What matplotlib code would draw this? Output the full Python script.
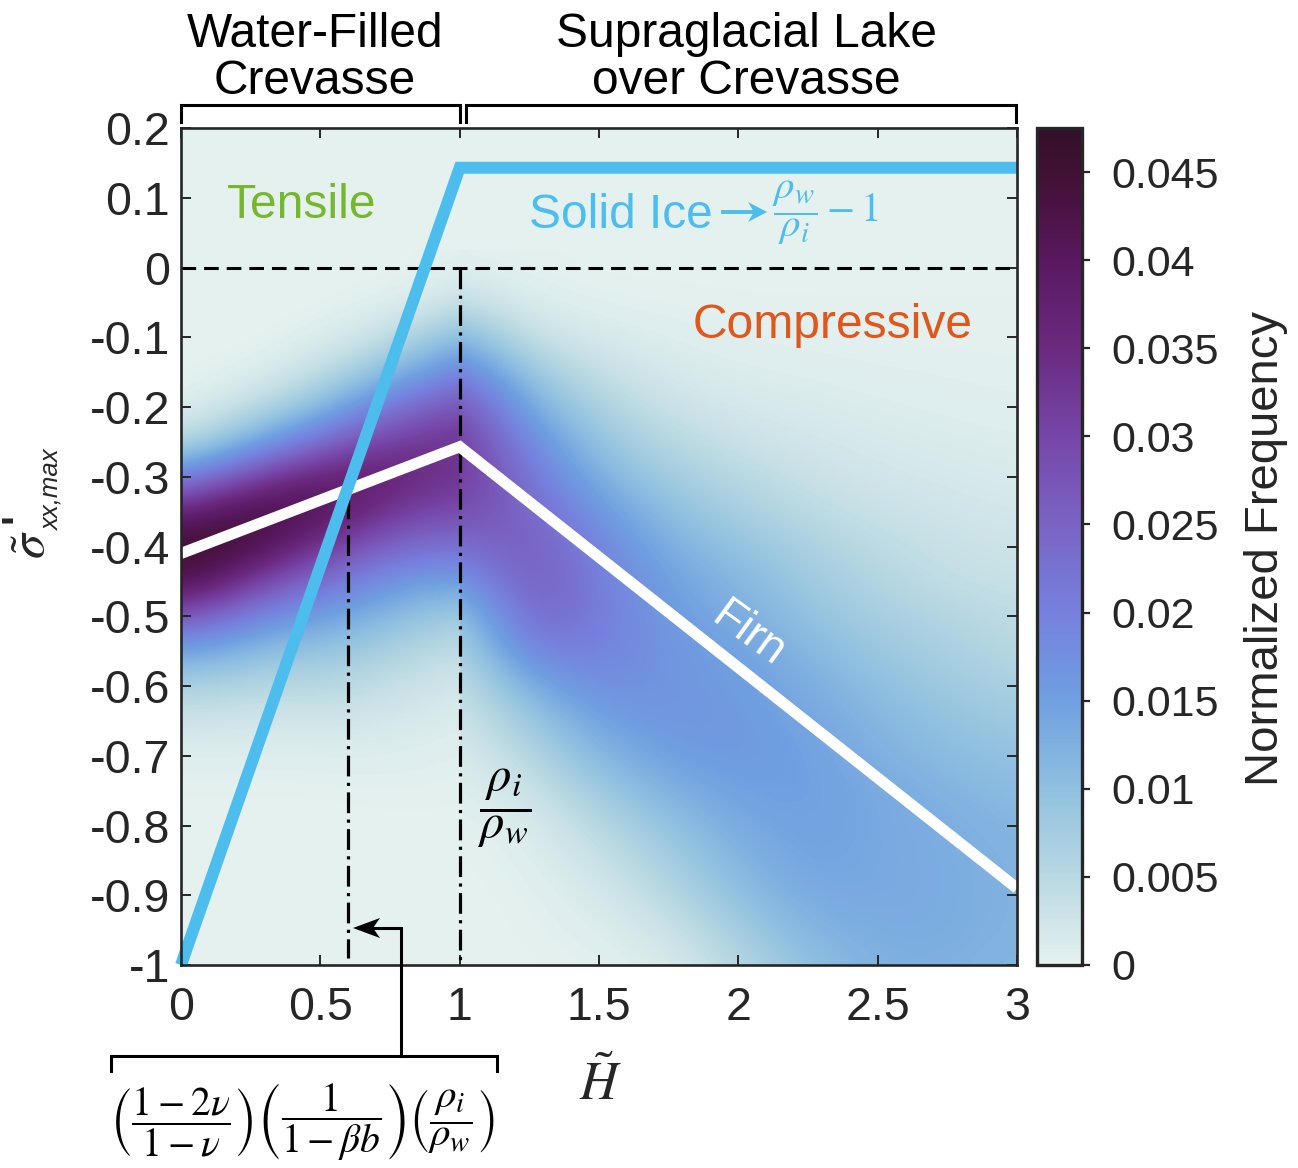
import numpy as np
import matplotlib
matplotlib.use("Agg")
import matplotlib.pyplot as plt
from matplotlib.colors import LinearSegmentedColormap
from matplotlib.patches import Rectangle

plt.rcParams['font.family'] = ['Liberation Sans', 'DejaVu Sans']
plt.rcParams['mathtext.fontset'] = 'stix'

W, H = 1298, 1168
INK = '#262626'

# Frequency (x 1e-3) at stress rows 0, -0.05, ... -1 for each H-tilde column
stress_rows = [0, -.05, -.1, -.15, -.2, -.25, -.3, -.35, -.4, -.45, -.5, -.55, -.6, -.65, -.7, -.75, -.8, -.85, -.9, -.95, -1]
# crevasse block, H = 0 .. 1
h_left = [0, .125, .25, .375, .5, .625, .75, .875, 1]
a_000 = [0, 0, 0, 0, .8, 5, 19, 37, 46, 42, 27, 14, 6.5, 2.5, .8, .2, 0, 0, 0, 0, 0]
a_012 = [0, 0, 0, .3, 2, 8, 24, 40, 46, 38, 24, 13, 6, 2.5, .8, .2, 0, 0, 0, 0, 0]
a_025 = [0, 0, 0, .8, 4, 13, 29, 43, 43, 32, 20, 11, 5.5, 2.2, .8, .2, 0, 0, 0, 0, 0]
a_037 = [0, 0, .3, 2, 7, 18, 34, 43, 38, 27, 17, 9.5, 5, 2.2, .8, .2, 0, 0, 0, 0, 0]
a_050 = [0, 0, 1, 4, 11, 23, 37, 41, 33, 23, 15, 9, 5, 2.2, .8, .2, 0, 0, 0, 0, 0]
a_062 = [0, .3, 2, 7, 16, 28, 38, 37, 28, 20, 13, 8, 4.5, 2.2, .9, .3, 0, 0, 0, 0, 0]
a_075 = [0, .7, 4, 11, 21, 31, 37, 33, 25, 17, 11, 6.5, 3.5, 1.8, .8, .3, .1, 0, 0, 0, 0]
a_087 = [.2, 1.5, 7, 15, 25, 33, 35, 30, 23, 15, 9, 5, 2.8, 1.4, .7, .3, .1, 0, 0, 0, 0]
a_100 = [.5, 3, 10, 19, 28, 33, 33, 29, 23, 15, 8, 4, 2, 1, .5, .2, .1, 0, 0, 0, 0]
left_cols = [a_000, a_012, a_025, a_037, a_050, a_062, a_075, a_087, a_100]
# lake block, H = 1 .. 3
h_right = [1, 1.25, 1.5, 1.75, 2, 2.25, 2.5, 2.75, 3]
b_100 = [.5, 4, 12, 21, 29, 33, 33, 29, 23, 15, 8, 5, 3, 2, 1, .5, .2, .1, 0, 0, 0]
b_125 = [.2, 1, 3, 8, 13, 18, 22, 25, 27, 27, 25, 20, 13, 8, 5, 2.5, 1, .5, .3, .2, .1]
b_150 = [.1, .4, 1.5, 3.5, 6, 9, 12, 16, 19, 20.5, 21, 20, 18, 15, 11.5, 8, 5, 3, 1.5, .8, .3]
b_175 = [.1, .3, .8, 1.6, 3, 5, 7.5, 10, 12.5, 14.5, 15.5, 16.5, 16.5, 16.5, 15, 12.5, 9.5, 7, 5, 2.5, 1.2]
b_200 = [.1, .2, .5, 1, 1.8, 3, 5, 7, 9.5, 11.5, 13, 14.5, 15.5, 16, 16, 15, 13.5, 12, 10, 7.5, 5]
b_225 = [.1, .2, .4, .8, 1.4, 2.2, 3.2, 4.5, 6.5, 8, 9.5, 11.5, 13, 14, 14.8, 15, 14.8, 14.5, 13.5, 12, 10]
b_250 = [.1, .2, .3, .6, 1, 1.6, 2.3, 3.2, 4.5, 5.5, 7, 8.5, 10, 11.5, 12.5, 13.5, 13.5, 13.5, 13.5, 13, 12.5]
b_275 = [.1, .2, .3, .5, .8, 1.2, 1.8, 2.5, 3.2, 4, 5.5, 6.8, 8, 9.5, 10.5, 12, 12.8, 13, 13, 13, 12.5]
b_300 = [.1, .2, .3, .4, .6, 1, 1.4, 2, 2.7, 3.3, 4.2, 5, 6.5, 8, 9.5, 10.5, 11.5, 12, 12, 12, 11.5]
right_cols = [b_100, b_125, b_150, b_175, b_200, b_225, b_250, b_275, b_300]

solid_h = [0, 1, 3]
solid_s = [-1, .143, .143]
firn_h = [0, 1, 3]
firn_s = [-.41, -.257, -.89]

x_ticks = [0, .5, 1, 1.5, 2, 2.5, 3]
x_labels = ['0', '0.5', '1', '1.5', '2', '2.5', '3']
y_ticks = [.2, .1, 0, -.1, -.2, -.3, -.4, -.5, -.6, -.7, -.8, -.9, -1]
y_labels = ['0.2', '0.1', '0', '-0.1', '-0.2', '-0.3', '-0.4', '-0.5', '-0.6', '-0.7', '-0.8', '-0.9', '-1']
cb_ticks = [0, .005, .01, .015, .02, .025, .03, .035, .04, .045]
cb_labels = ['0', '0.005', '0.01', '0.015', '0.02', '0.025', '0.03', '0.035', '0.04', '0.045']

cmap_stops = [0, .005, .01, .015, .02, .025, .03, .035, .04, .045, .0475]
cmap_cols = ['#e5f1ef', '#b8d8e2', '#8fc0e0', '#6f9fe0', '#7680de', '#7a64c4',
             '#7646a8', '#6b2a80', '#591860', '#421033', '#32102a']
VMAX = .0475
cmap = LinearSegmentedColormap.from_list('ice', [(s / VMAX, c) for s, c in zip(cmap_stops, cmap_cols)], N=256)


def rect(x0, y0, x1, y1):
    return [x0 / W, 1 - y1 / H, (x1 - x0) / W, (y1 - y0) / H]


fig = plt.figure(figsize=(W / 100, H / 100), dpi=100)
ax = fig.add_axes(rect(181, 128, 1017, 965))
ax.set_facecolor(cmap(0.0))


def block(h_vals, cols):
    """Draw one block of the histogram; matplotlib smooths between the read values."""
    z = np.array(cols).T * 1e-3
    dh = h_vals[1] - h_vals[0]
    ds = stress_rows[0] - stress_rows[1]
    im = ax.imshow(z, cmap=cmap, vmin=0, vmax=VMAX, aspect='auto', interpolation='bicubic',
                   extent=(h_vals[0] - dh / 2, h_vals[-1] + dh / 2,
                           stress_rows[-1] - ds / 2, stress_rows[0] + ds / 2), zorder=1)
    im.set_clip_path(Rectangle((h_vals[0], -1), h_vals[-1] - h_vals[0], 1.03, transform=ax.transData))
    return im


block(h_left, left_cols)
mesh = block(h_right, right_cols)
ax.set_xlim(0, 3)
ax.set_ylim(-1, .2)

DD = (6.5, 2, 1, 2)
ax.plot([0, 3], [0, 0], color='black', lw=2.2, dashes=(4.8, 2.6), zorder=3)
ax.plot([1, 1], [0, -1], color='black', lw=2.3, dashes=DD, zorder=3)
ax.plot([.6, .6], [-.33, -.99], color='black', lw=2.3, dashes=DD, zorder=3)
ax.plot(firn_h, firn_s, color='white', lw=8, solid_joinstyle='miter', solid_capstyle='butt', zorder=4)
ax.plot(solid_h, solid_s, color='#4dbdee', lw=8.6, solid_joinstyle='miter', solid_capstyle='butt',
        clip_on=False, zorder=5)

ax.set_xticks(x_ticks, x_labels)
ax.set_yticks(y_ticks, y_labels)
ax.tick_params(axis='both', direction='in', length=7, width=1.4, color=INK, top=True, right=True,
               labelsize=33.5, labelcolor=INK)
ax.tick_params(axis='x', pad=15)
ax.tick_params(axis='y', pad=8)
for s in ax.spines.values():
    s.set_linewidth(1.9)
    s.set_color(INK)
    s.set_zorder(6)

cax = fig.add_axes(rect(1037, 128, 1082, 965))
cb = fig.colorbar(mesh, cax=cax)
cb.set_ticks(cb_ticks, labels=cb_labels)
cax.tick_params(axis='y', direction='out', length=6, width=1.6, color=INK, labelsize=31, labelcolor=INK, pad=15)
cb.outline.set_linewidth(2.4)
cb.outline.set_edgecolor(INK)

# overlay in pixel coordinates for annotations
ov = fig.add_axes([0, 0, 1, 1], zorder=10)
ov.set_xlim(0, W)
ov.set_ylim(H, 0)
ov.axis('off')
ov.patch.set_alpha(0)


def bracket(x0, x1, y, y2):
    ov.plot([x0, x0, x1, x1], [y2, y, y, y2], color='black', lw=2.2, solid_joinstyle='miter')


bracket(180.5, 460, 105, 122)
bracket(466, 1016, 105, 122)
bracket(110.5, 497, 1056, 1071)
ov.plot([401, 401, 370], [1056, 928, 928], color='black', lw=2.2, solid_joinstyle='miter')
ov.fill([353, 380, 373, 380], [928, 918, 928, 938], color='black', lw=0)
ov.plot([723, 755], [212, 212], color='#4dbdee', lw=2.8)
ov.fill([767, 748, 754, 748], [212, 202, 212, 222], color='#4dbdee', lw=0)


def t(x, y, s, size, color='black', **kw):
    ov.text(x, y, s, fontsize=size, color=color, ha='center', va='center', linespacing=1.05, **kw)


t(315, 58, 'Water-Filled\nCrevasse', 34.5)
t(746, 58, 'Supraglacial Lake\nover Crevasse', 34.5)
t(302, 206, 'Tensile', 34.6, '#76b72e')
t(833, 326, 'Compressive', 34.6, '#e0561b')
t(621, 215, 'Solid Ice', 34.5, '#4dbdee')
t(748, 635, 'Firn', 33, 'white', rotation=-36)
t(1266, 548, 'Normalized Frequency', 34, INK, rotation=90)
ov.text(772, 213, r'$\dfrac{\rho_w}{\rho_i}-1$', fontsize=29.5, color='#4dbdee', ha='left', va='center')
ov.text(478, 808, r'$\dfrac{\rho_i}{\rho_w}$', fontsize=35, color='black', ha='left', va='center')
ov.text(182, 1122, r'$\left(\dfrac{1-2\nu}{1-\nu}\right)$', fontsize=28.5, color='black', ha='center', va='center')
ov.text(331, 1122, r'$\left(\dfrac{1}{1-\beta b}\right)$', fontsize=28.5, color='black', ha='center', va='center')
ov.text(452, 1122, r'$\left(\dfrac{\rho_i}{\rho_w}\right)$', fontsize=29.5, color='black', ha='center', va='center')
ov.text(600, 1085, r'$\tilde{H}$', fontsize=38, color=INK, ha='center', va='center')
ov.text(32, 545, r'$\tilde{\sigma}$', fontsize=36, color=INK, ha='center', va='center', rotation=90)
ov.text(19, 518, "'", fontsize=30, color=INK, fontweight='bold', ha='center', va='center', rotation=90)
ov.text(52, 490, 'xx,max', fontsize=18.5, color=INK, style='italic', ha='center', va='center', rotation=90)

fig.savefig('out.png', dpi=100)
